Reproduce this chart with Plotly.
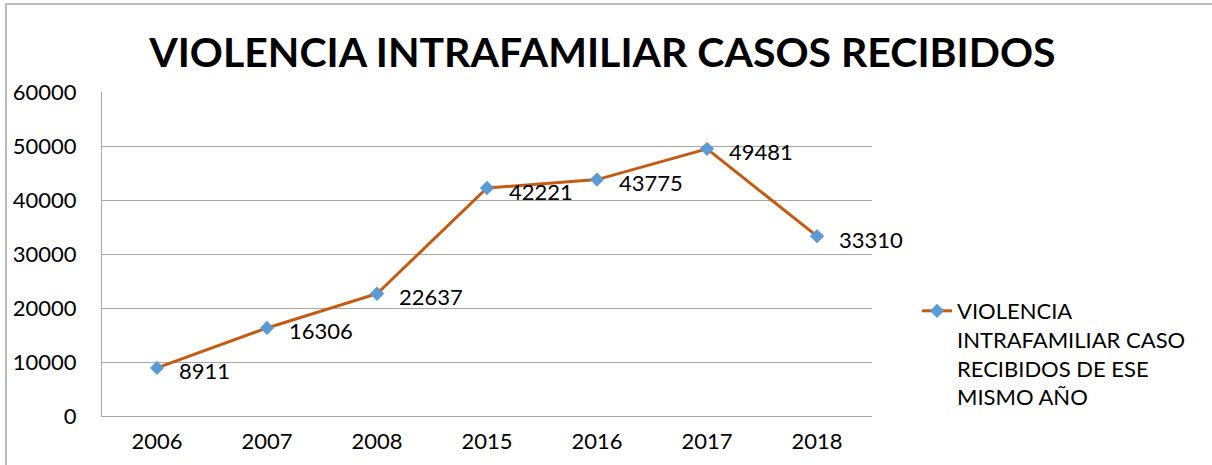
import plotly.graph_objects as go

years = ["2006", "2007", "2008", "2015", "2016", "2017", "2018"]
casos = [8911, 16306, 22637, 42221, 43775, 49481, 33310]
serie = "VIOLENCIA<br>INTRAFAMILIAR CASO<br>RECIBIDOS DE ESE<br>MISMO AÑO"
titulo = "VIOLENCIA INTRAFAMILIAR CASOS RECIBIDOS"
y_ticks = [0, 10000, 20000, 30000, 40000, 50000, 60000]

FONT = "Lato, 'Liberation Sans', Arial, sans-serif"

fig = go.Figure()
fig.add_trace(go.Scatter(
    x=years, y=casos, mode="lines+markers", name=serie,
    line=dict(color="#C55A11", width=3),
    marker=dict(symbol="diamond", size=11, color="#5B9BD5"),
))

for i, v in enumerate(casos):
    fig.add_annotation(x=i, y=v, text=str(v), showarrow=False,
                       xanchor="left", yanchor="middle", xshift=20, yshift=-3,
                       font=dict(family=FONT, size=22, color="#000000"))

L, R, T, B = 102, 340, 92, 49
W, H = 1212, 465
pw, ph = W - L - R, H - T - B

# chart border (outer frame)
fig.add_shape(type="rect", xref="paper", yref="paper",
              x0=(6 - L) / pw, x1=(W + 20 - L) / pw,
              y0=-(B + 20) / ph, y1=1 + (T - 4) / ph,
              line=dict(color="#A6A6A6", width=1.5), fillcolor="rgba(0,0,0,0)", layer="below")

fig.update_layout(
    width=W, height=H,
    margin=dict(l=L, r=R, t=T, b=B, autoexpand=False),
    paper_bgcolor="white", plot_bgcolor="white",
    font=dict(family=FONT, size=22, color="#000000"),
    title=dict(text="<b>" + titulo + "</b>", x=0.497, xref="container", xanchor="center",
               y=1 - 53 / H, yref="container", yanchor="middle",
               font=dict(family=FONT, size=41, color="#000000")),
    showlegend=True,
    legend=dict(x=(917 - L) / pw, xanchor="left", y=1 - (290 - T) / ph, yanchor="top",
                valign="top", font=dict(family=FONT, size=22, color="#000000"),
                bgcolor="rgba(0,0,0,0)", tracegroupgap=0),
    xaxis=dict(type="category", range=[-0.5, len(years) - 0.5], showgrid=False,
               showline=True, linecolor="#A6A6A6", linewidth=1, ticks="",
               tickfont=dict(size=22), ticklabelstandoff=6, automargin=False),
    yaxis=dict(range=[0, 60000], tickvals=y_ticks, tickformat="d", showgrid=True,
               gridcolor="#A6A6A6", gridwidth=1, showline=True, linecolor="#A6A6A6",
               linewidth=1, zeroline=False, ticks="", tickfont=dict(size=22),
               ticklabelstandoff=20, automargin=False),
)

fig.write_html("out.html", config={"displayModeBar": False},
               post_script="document.body.style.margin='0';document.body.style.overflow='hidden';")
